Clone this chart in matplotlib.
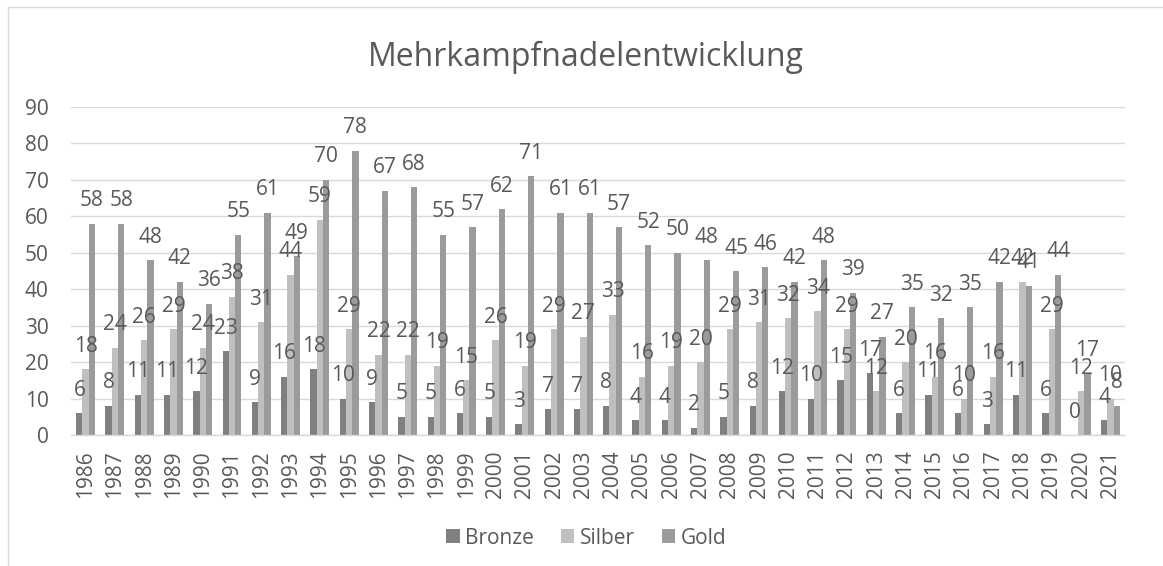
import matplotlib
matplotlib.use("Agg")
import matplotlib.pyplot as plt
from matplotlib.patches import Rectangle
import numpy as np

years = [str(y) for y in range(1986, 2022)]
bronze = [6, 8, 11, 11, 12, 23, 9, 16, 18, 10, 9, 5, 5, 6, 5, 3, 7, 7, 8, 4, 4, 2, 5, 8,
          12, 10, 15, 17, 6, 11, 6, 3, 11, 6, 0, 4]
silber = [18, 24, 26, 29, 24, 38, 31, 44, 59, 29, 22, 22, 19, 15, 26, 19, 29, 27, 33, 16, 19, 20, 29, 31,
          32, 34, 29, 12, 20, 16, 10, 16, 42, 29, 12, 10]
gold = [58, 58, 48, 42, 36, 55, 61, 49, 70, 78, 67, 68, 55, 57, 62, 71, 61, 61, 57, 52, 50, 48, 45, 46,
        42, 48, 39, 27, 35, 32, 35, 42, 41, 44, 17, 8]
series_names = ["Bronze", "Silber", "Gold"]
colors = ["#7f7f7f", "#bfbfc0", "#9a9b9d"]

plt.rcParams['font.family'] = ['Open Sans', 'DejaVu Sans']
W, H = 1163, 566
fig = plt.figure(figsize=(W / 100, H / 100), dpi=100)

# chart border
fig.patches.append(Rectangle((8 / W, -0.1), 1.2, 1 - 7 / H + 0.1, transform=fig.transFigure,
                             fill=False, edgecolor="#d9d9d9", linewidth=1))

ax = fig.add_axes([71 / W, 1 - 435 / H, (1125 - 71) / W, (435 - 107) / H])
x = np.arange(len(years))
bw = 0.215
text_c = "#595959"
fs = 15
for i, (vals, name, c) in enumerate(zip([bronze, silber, gold], series_names, colors)):
    pos = x + (i - 1) * bw
    ax.bar(pos, vals, width=bw, color=c, label=name, zorder=2)
    for p, v in zip(pos, vals):
        ax.annotate(str(v), (p, v), xytext=(0, 9), textcoords="offset points",
                    ha="center", va="bottom", fontsize=fs, color=text_c, zorder=3)

ax.set_ylim(0, 90)
ax.set_xlim(-0.5, len(years) - 0.5)
ax.set_yticks(range(0, 91, 10))
ax.set_xticks(x)
ax.set_xticklabels(years, rotation=90, fontsize=fs, color=text_c)
ax.tick_params(axis="y", labelsize=fs, labelcolor=text_c, length=0, pad=16)
ax.tick_params(axis="x", length=0, pad=11)
ax.grid(axis="y", color="#d9d9d9", linewidth=1, zorder=0)
for s in ["top", "right", "left"]:
    ax.spines[s].set_visible(False)
ax.spines["bottom"].set_color("#d9d9d9")
ax.spines["bottom"].set_linewidth(1)

fig.text(586 / W, 1 - 57 / H, "Mehrkampfnadelentwicklung", ha="center", va="center",
         fontsize=23, color=text_c)

leg = fig.legend(loc="center", bbox_to_anchor=(586 / W, 1 - 538 / H), ncol=3, frameon=False,
                 fontsize=fs, handlelength=0.65, handleheight=0.65, handletextpad=0.25,
                 columnspacing=1.3)
for t in leg.get_texts():
    t.set_color(text_c)

fig.savefig("out.png", dpi=100)
